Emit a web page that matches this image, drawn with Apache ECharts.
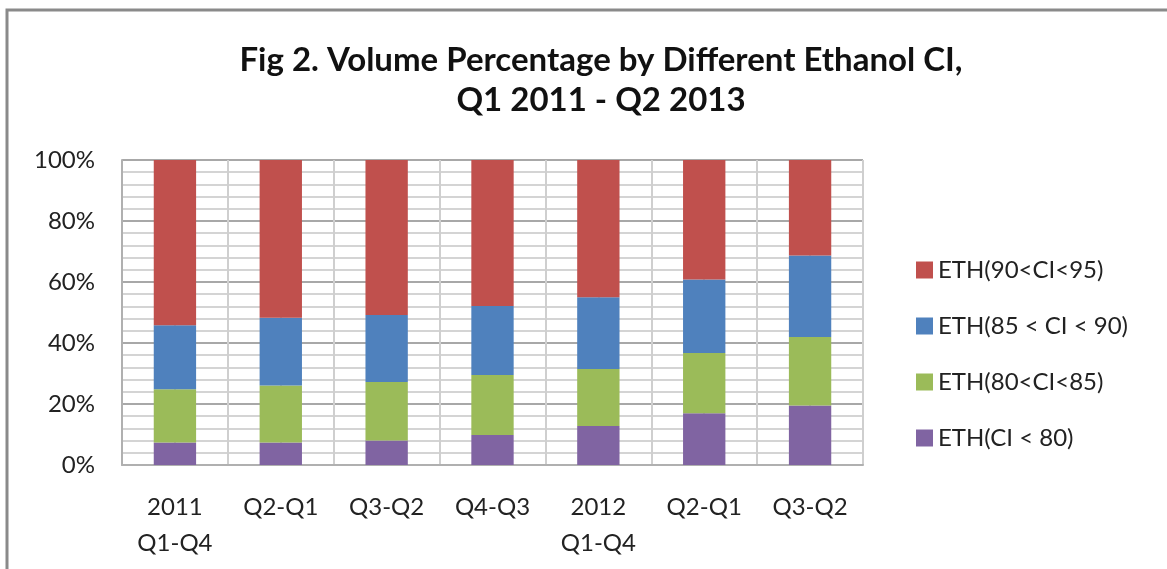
<!DOCTYPE html>
<html>
<head>
<meta charset="utf-8">
<script src="https://cdn.jsdelivr.net/npm/echarts@6/dist/echarts.min.js"></script>
<style>
  html, body { margin: 0; padding: 0; background: #fff; }
  #chart { width: 1167px; height: 569px; }
</style>
</head>
<body>
<div id="chart"></div>
<script>
// categories (two-line labels)
const periods = ["2011\nQ1-Q4", "Q2-Q1", "Q3-Q2", "Q4-Q3", "2012\nQ1-Q4", "Q2-Q1", "Q3-Q2"];

// volume share per CI band, in %
const ethBelow80 = [7.4, 7.4, 8.0, 9.8, 12.8, 17.0, 19.5];
const eth80to85 = [17.4, 18.7, 19.2, 19.7, 18.7, 19.7, 22.5];
const eth85to90 = [21.0, 22.2, 22.0, 22.6, 23.5, 24.1, 26.7];
const eth90to95 = [54.2, 51.7, 50.8, 47.9, 45.0, 39.2, 31.3];

const seriesNames = ["ETH(CI < 80)", "ETH(80<CI<85)", "ETH(85 < CI < 90)", "ETH(90<CI<95)"];
const seriesColors = ["#8064A2", "#9BBB59", "#4F81BD", "#C0504D"];

const font = "Lato, 'Open Sans', sans-serif";

let myChart = echarts.init(document.getElementById("chart"));

function barSeries(i, values) {
  return {
    name: seriesNames[i],
    type: "bar",
    stack: "total",
    data: values,
    barWidth: "40%",
    itemStyle: { color: seriesColors[i] },
  };
}

myChart.setOption({
  animation: false,
  graphic: [
    {
      type: "rect",
      shape: { x: 7, y: 10, width: 1200, height: 600 },
      style: { fill: "none", stroke: "#8a8a8a", lineWidth: 3 },
      silent: true,
    },
  ],
  title: {
    text: "Fig 2. Volume Percentage by Different Ethanol CI,\nQ1 2011 - Q2 2013",
    left: 596,
    textAlign: "center",
    top: 35,
    textStyle: {
      fontFamily: font,
      fontWeight: "bold",
      fontSize: 33,
      lineHeight: 40,
      color: "#111",
    },
  },
  grid: {
    left: 122,
    right: 304,
    top: 160,
    bottom: 104,
  },
  legend: {
    data: ["ETH(90<CI<95)", "ETH(85 < CI < 90)", "ETH(80<CI<85)", "ETH(CI < 80)"],
    orient: "vertical",
    left: 911,
    top: 253,
    itemWidth: 17,
    itemHeight: 17,
    itemGap: 32,
    icon: "rect",
    textStyle: { fontFamily: font, fontSize: 24, color: "#222" },
  },
  xAxis: [
    {
      type: "category",
      data: periods,
      axisLine: { lineStyle: { color: "#b0b0b0", width: 2 } },
      axisTick: { show: false },
      axisLabel: {
        fontFamily: font,
        fontSize: 24,
        color: "#222",
        lineHeight: 36,
        margin: 24,
        verticalAlign: "top",
      },
    },
    {
      // half-category vertical grid lines
      type: "value",
      min: 0,
      max: 7,
      interval: 0.5,
      position: "bottom",
      axisLine: { show: false },
      axisTick: { show: false },
      axisLabel: { show: false },
      splitLine: { show: true, lineStyle: { color: "#cfcfcf", width: 2 } },
    },
  ],
  yAxis: {
    type: "value",
    min: 0,
    max: 100,
    interval: 20,
    axisLine: { show: true, lineStyle: { color: "#b0b0b0", width: 2 } },
    axisTick: { show: false },
    axisLabel: {
      formatter: "{value}%",
      fontFamily: font,
      fontSize: 24,
      color: "#222",
      margin: 27,
    },
    splitLine: { lineStyle: { color: "#a8a8a8", width: 2 } },
    minorTick: { show: false, splitNumber: 5 },
    minorSplitLine: { show: true, lineStyle: { color: "#d4d4d4", width: 2 } },
  },
  series: [
    barSeries(0, ethBelow80),
    barSeries(1, eth80to85),
    barSeries(2, eth85to90),
    barSeries(3, eth90to95),
  ],
});
</script>
</body>
</html>
